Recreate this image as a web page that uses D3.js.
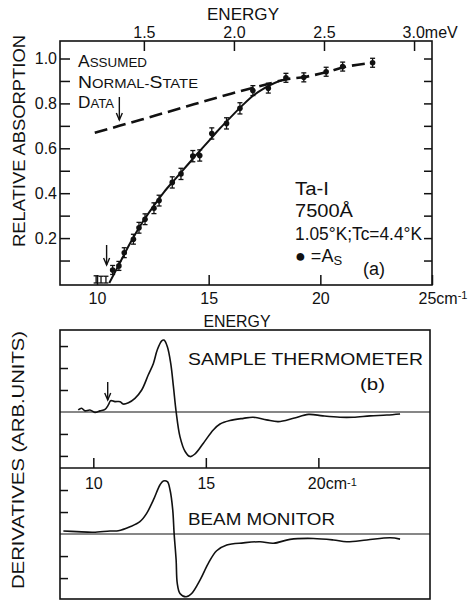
<!DOCTYPE html>
<html><head><meta charset="utf-8">
<script src="https://cdn.jsdelivr.net/npm/d3@7"></script>
<style>
body{margin:0;background:#fff}
svg{display:block}
text{font-family:"Liberation Sans",Arial,sans-serif;fill:#111}
</style></head><body>
<svg id="c" width="472" height="602"></svg>
<script>
// ---------- data ----------
const CM_PER_MEV = 8.0655;
const meVTicks = [1.5, 2.0, 2.5, 3.0];
const meVLabels = ["1.5", "2.0", "2.5", "3.0"];
const cmTicksTop = [10, 15, 20, 25];
const cmLabelsTop = ["10", "15", "20", "25"];
const cmTicksLow = [10, 15, 20];
const cmLabelsLow = ["10", "15", "20"];
const absTicks = [0.1, 0.2, 0.3, 0.4, 0.5, 0.6, 0.7, 0.8, 0.9, 1.0];
const absLabels = ["", "0.2", "", "0.4", "", "0.6", "", "0.8", "", "1.0"];
const derivTicksB = [-2, -1, 1, 2, 3];
const derivTicksC = [-2, -1, 1, 2];

// measured absorption A_s (cm^-1, relative absorption, error)
const ptE   = [9.96, 10.18, 10.40, 10.70, 10.98, 11.22, 11.63, 11.88, 12.15, 12.55, 12.78, 13.37, 13.76, 14.29, 14.60, 15.14, 15.80, 16.40, 16.98, 17.67, 18.46, 19.26, 20.26, 21.00, 22.34];
const ptA   = [0.012, 0.012, 0.012, 0.058, 0.076, 0.135, 0.195, 0.246, 0.284, 0.333, 0.367, 0.448, 0.486, 0.565, 0.568, 0.666, 0.711, 0.778, 0.857, 0.868, 0.914, 0.916, 0.941, 0.964, 0.981];
const ptErr = [0.020, 0.018, 0.018, 0.020, 0.020, 0.022, 0.022, 0.024, 0.024, 0.024, 0.024, 0.025, 0.025, 0.025, 0.025, 0.025, 0.025, 0.025, 0.022, 0.022, 0.020, 0.020, 0.020, 0.020, 0.020];

// solid fitted curve
const fitE = [10.55, 11.0, 11.5, 12.0, 12.5, 13.0, 13.5, 14.0, 14.5, 15.0, 15.5, 16.0, 16.5, 17.0, 17.5, 18.0, 18.4];
const fitA = [0.0, 0.085, 0.18, 0.265, 0.338, 0.405, 0.463, 0.520, 0.577, 0.632, 0.688, 0.740, 0.790, 0.835, 0.868, 0.893, 0.907];

// dashed "assumed normal-state data"
const normE = [9.9, 11.0, 12.0, 13.0, 14.0, 15.0, 16.0, 17.0, 17.7, 18.5, 19.3, 20.3, 21.0, 22.3];
const normA = [0.669, 0.700, 0.728, 0.757, 0.786, 0.815, 0.843, 0.870, 0.888, 0.908, 0.918, 0.940, 0.960, 0.980];

// (b) sample thermometer derivative
const thermE = [9.33, 9.48, 9.63, 9.85, 10.07, 10.30, 10.52, 10.67, 10.77, 10.96, 11.19, 11.33, 11.56, 11.85, 12.15, 12.44, 12.67, 12.84, 13.04, 13.14, 13.29, 13.44, 13.56, 13.68, 13.85, 14.08, 14.30, 14.52, 14.89, 15.33, 15.63, 16.07, 16.67, 17.10, 17.70, 18.22, 18.89, 19.56, 20.20, 20.96, 21.55, 22.30, 23.04, 23.63];
const thermV = [0.09, 0.17, 0.05, 0.09, -0.02, 0.05, 0.12, 0.32, 0.51, 0.47, 0.47, 0.36, 0.42, 0.62, 1.00, 1.68, 2.21, 2.82, 3.24, 3.27, 2.97, 2.21, 1.15, 0.01, -1.12, -1.80, -2.03, -1.91, -1.42, -0.82, -0.55, -0.39, -0.29, -0.24, -0.36, -0.44, -0.29, -0.11, -0.18, -0.24, -0.24, -0.18, -0.14, -0.09];

// (c) beam monitor derivative
const beamE = [8.67, 9.26, 10.00, 10.74, 11.11, 11.63, 12.07, 12.37, 12.67, 12.96, 13.11, 13.29, 13.41, 13.53, 13.59, 13.68, 13.73, 13.85, 14.12, 14.37, 14.74, 15.11, 15.48, 15.93, 16.67, 17.41, 18.00, 18.74, 19.78, 20.67, 21.26, 22.15, 23.19, 23.63];
const beamV = [0.14, 0.11, 0.08, 0.14, 0.15, 0.33, 0.56, 0.94, 1.55, 2.23, 2.41, 2.38, 2.00, 1.09, 0.03, -1.18, -2.24, -2.70, -2.85, -2.70, -2.09, -1.33, -0.76, -0.50, -0.40, -0.35, -0.42, -0.24, -0.20, -0.27, -0.35, -0.27, -0.17, -0.23];

// arrows (cm^-1)
const arrowTopE = 10.43;
const arrowDataE = 11.0;
const arrowBE = 10.64;

// ---------- drawing ----------
const INK = "#111";
const svg = d3.select("#c");
svg.append("rect").attr("width", 472).attr("height", 602).attr("fill", "#fff");

const xTop = d3.scaleLinear().domain([8.343, 25]).range([60, 432]);
const yTop = d3.scaleLinear().domain([-0.009, 1.078]).range([285, 41]);
const xLow = d3.scaleLinear().domain([8.52, 24.96]).range([60, 430]);
const yB = d3.scaleLinear().domain([-2.55, 3.73]).range([468, 330]);
const yC = d3.scaleLinear().domain([-2.95, 3.0]).range([599, 468]);

function styleAxis(g, fs) {
  g.attr("font-family", null).attr("font-size", null);
  g.select(".domain").remove();
  g.selectAll(".tick line").attr("stroke", INK).attr("stroke-width", 1.5);
  g.selectAll(".tick text").attr("font-size", fs).attr("fill", INK);
}

// frames
svg.append("rect").attr("x", xTop.range()[0]).attr("y", yTop.range()[1])
  .attr("width", xTop.range()[1] - xTop.range()[0]).attr("height", yTop.range()[0] - yTop.range()[1])
  .attr("fill", "none").attr("stroke", INK).attr("stroke-width", 1.6);
svg.append("rect").attr("x", xLow.range()[0]).attr("y", yB.range()[1])
  .attr("width", xLow.range()[1] - xLow.range()[0]).attr("height", yC.range()[0] - yB.range()[1])
  .attr("fill", "none").attr("stroke", INK).attr("stroke-width", 1.6);
svg.append("line").attr("x1", xLow.range()[0]).attr("x2", xLow.range()[1])
  .attr("y1", yB.range()[0]).attr("y2", yB.range()[0]).attr("stroke", INK).attr("stroke-width", 1.6);

// top (meV) axis
const gMeV = svg.append("g").attr("transform", `translate(0,${yTop.range()[1]})`)
  .call(d3.axisTop(xTop).tickValues(meVTicks.map(m => m * CM_PER_MEV))
    .tickFormat((d, i) => meVLabels[i]).tickSizeInner(-10).tickSizeOuter(0).tickPadding(3));
styleAxis(gMeV, 16);
gMeV.selectAll(".tick text").filter((d, i) => i === meVTicks.length - 1)
  .attr("text-anchor", "start").attr("x", -12)
  .each(function () { d3.select(this).append("tspan").text("meV"); });

// left absorption axis
const gAbs = svg.append("g").attr("transform", `translate(${xTop.range()[0]},0)`)
  .call(d3.axisLeft(yTop).tickValues(absTicks).tickFormat((d, i) => absLabels[i])
    .tickSizeInner(-10).tickSizeOuter(0).tickPadding(3));
styleAxis(gAbs, 16);
// right ticks
const gAbsR = svg.append("g").attr("transform", `translate(${xTop.range()[1]},0)`)
  .call(d3.axisRight(yTop).tickValues(absTicks).tickFormat("").tickSizeInner(-8).tickSizeOuter(0));
styleAxis(gAbsR, 16);

// bottom cm axis of panel (a)
const gCmTop = svg.append("g").attr("transform", `translate(0,${yTop.range()[0]})`)
  .call(d3.axisBottom(xTop).tickValues(cmTicksTop).tickFormat((d, i) => cmLabelsTop[i])
    .tickSizeInner(-10).tickSizeOuter(0).tickPadding(8));
styleAxis(gCmTop, 16);
gCmTop.selectAll(".tick text").filter((d, i) => i === cmTicksTop.length - 1)
  .attr("text-anchor", "start").attr("x", -14)
  .each(function () {
    const t = d3.select(this);
    t.append("tspan").text("cm");
    t.append("tspan").attr("font-size", 11).attr("dy", "-0.45em").text("-1");
  });

// lower panel cm axis at divider
const gCmLow = svg.append("g").attr("transform", `translate(0,${yB.range()[0]})`)
  .call(d3.axisBottom(xLow).tickValues(cmTicksLow).tickFormat((d, i) => cmLabelsLow[i])
    .tickSizeInner(-10).tickSizeOuter(0).tickPadding(10));
styleAxis(gCmLow, 16);
gCmLow.selectAll(".tick text").filter((d, i) => i === cmTicksLow.length - 1)
  .attr("text-anchor", "start").attr("x", -11)
  .each(function () {
    const t = d3.select(this);
    t.append("tspan").text("cm");
    t.append("tspan").attr("font-size", 11).attr("dy", "-0.3em").text("-1");
  });

// left ticks of lower panels
const gB = svg.append("g").attr("transform", `translate(${xLow.range()[0]},0)`)
  .call(d3.axisLeft(yB).tickValues(derivTicksB).tickFormat("").tickSizeInner(-8).tickSizeOuter(0));
styleAxis(gB, 16);
const gC = svg.append("g").attr("transform", `translate(${xLow.range()[0]},0)`)
  .call(d3.axisLeft(yC).tickValues(derivTicksC).tickFormat("").tickSizeInner(-8).tickSizeOuter(0));
styleAxis(gC, 16);

// zero lines
svg.append("line").attr("x1", xLow.range()[0]).attr("x2", xLow.range()[1])
  .attr("y1", yB(0)).attr("y2", yB(0)).attr("stroke", INK).attr("stroke-width", 1.1);
svg.append("line").attr("x1", xLow.range()[0]).attr("x2", xLow.range()[1])
  .attr("y1", yC(0)).attr("y2", yC(0)).attr("stroke", INK).attr("stroke-width", 1.1);

// dashed normal-state line
const lineTop = d3.line().x(d => xTop(d[0])).y(d => yTop(d[1])).curve(d3.curveMonotoneX);
svg.append("path").datum(normE.map((e, i) => [e, normA[i]]))
  .attr("d", lineTop).attr("fill", "none").attr("stroke", INK)
  .attr("stroke-width", 2.6).attr("stroke-dasharray", "13,6");

// fitted solid line
svg.append("path").datum(fitE.map((e, i) => [e, fitA[i]]))
  .attr("d", lineTop).attr("fill", "none").attr("stroke", INK).attr("stroke-width", 2);

// error bars + points
const pts = ptE.map((e, i) => ({ e, a: ptA[i], err: ptErr[i] }));
const gp = svg.append("g");
const eb = gp.selectAll("g.eb").data(pts).join("g").attr("class", "eb");
eb.append("line").attr("x1", d => xTop(d.e)).attr("x2", d => xTop(d.e))
  .attr("y1", d => yTop(d.a + d.err)).attr("y2", d => yTop(Math.max(d.a - d.err, 0)))
  .attr("stroke", INK).attr("stroke-width", 1.3);
eb.append("line").attr("x1", d => xTop(d.e) - 2.5).attr("x2", d => xTop(d.e) + 2.5)
  .attr("y1", d => yTop(d.a + d.err)).attr("y2", d => yTop(d.a + d.err))
  .attr("stroke", INK).attr("stroke-width", 1.3);
eb.append("line").attr("x1", d => xTop(d.e) - 2.5).attr("x2", d => xTop(d.e) + 2.5)
  .attr("y1", d => yTop(Math.max(d.a - d.err, 0))).attr("y2", d => yTop(Math.max(d.a - d.err, 0)))
  .attr("stroke", INK).attr("stroke-width", 1.3);
eb.filter(d => d.a > 0.03).append("circle").attr("cx", d => xTop(d.e)).attr("cy", d => yTop(d.a))
  .attr("r", 2.8).attr("fill", INK);

// arrows
function arrow(x, y1, y2) {
  svg.append("line").attr("x1", x).attr("x2", x).attr("y1", y1).attr("y2", y2)
    .attr("stroke", INK).attr("stroke-width", 1.4);
  svg.append("path").attr("d", `M${x - 3},${y2 - 7} L${x},${y2} L${x + 3},${y2 - 7}`)
    .attr("fill", "none").attr("stroke", INK).attr("stroke-width", 1.4);
}
arrow(xTop(arrowTopE), 245, 265);
arrow(xTop(arrowDataE), 97, 120);
arrow(xLow(arrowBE), 382, 400);

// derivative curves
const lineB = d3.line().x(d => xLow(d[0])).y(d => yB(d[1])).curve(d3.curveCatmullRom.alpha(0.5));
svg.append("path").datum(thermE.map((e, i) => [e, thermV[i]]))
  .attr("d", lineB).attr("fill", "none").attr("stroke", INK).attr("stroke-width", 1.6);
const lineC = d3.line().x(d => xLow(d[0])).y(d => yC(d[1])).curve(d3.curveCatmullRom.alpha(0.5));
svg.append("path").datum(beamE.map((e, i) => [e, beamV[i]]))
  .attr("d", lineC).attr("fill", "none").attr("stroke", INK).attr("stroke-width", 1.6);

// ---------- text ----------
function txt(x, y, s, fs, opts = {}) {
  const t = svg.append("text").attr("x", x).attr("y", y).attr("font-size", fs).text(s);
  if (opts.anchor) t.attr("text-anchor", opts.anchor);
  if (opts.len) t.attr("textLength", opts.len).attr("lengthAdjust", "spacingAndGlyphs");
  if (opts.rot) t.attr("transform", `rotate(-90,${x},${y})`);
  return t;
}
txt(243, 20, "ENERGY", 17, { anchor: "middle", len: 72 });
txt(237, 327, "ENERGY", 17, { anchor: "middle", len: 67 });
txt(25, 141, "RELATIVE ABSORPTION", 17, { anchor: "middle", len: 212, rot: true });
txt(24, 460, "DERIVATIVES (ARB.UNITS)", 17, { anchor: "middle", len: 258, rot: true });

// small-caps legend text
function smallCaps(x, y, parts, len) {
  const t = svg.append("text").attr("x", x).attr("y", y);
  parts.forEach(p => t.append("tspan").attr("font-size", p[1] ? 17 : 13).text(p[0]));
  t.attr("textLength", len).attr("lengthAdjust", "spacingAndGlyphs");
}
smallCaps(78, 67, [["A", 1], ["SSUMED", 0]], 69);
smallCaps(78, 88, [["N", 1], ["ORMAL-", 0], ["S", 1], ["TATE", 0]], 120);
smallCaps(78, 108, [["D", 1], ["ATA", 0]], 36);

txt(295, 195, "Ta-I", 18, { len: 34 });
txt(295, 217, "7500Å", 18, { len: 58 });
txt(295, 240, "1.05°K;Tc=4.4°K", 18, { len: 127 });
const as = svg.append("text").attr("x", 295).attr("y", 262).attr("font-size", 18);
as.append("tspan").text("● =A");
as.append("tspan").attr("font-size", 13).attr("dy", 3).text("S");
txt(363, 275, "(a)", 18, { len: 22 });

txt(188, 365, "SAMPLE  THERMOMETER", 17, { len: 235 });
txt(360, 390, "(b)", 17, { len: 25 });
txt(188, 525, "BEAM  MONITOR", 17, { len: 147 });
</script></body></html>
